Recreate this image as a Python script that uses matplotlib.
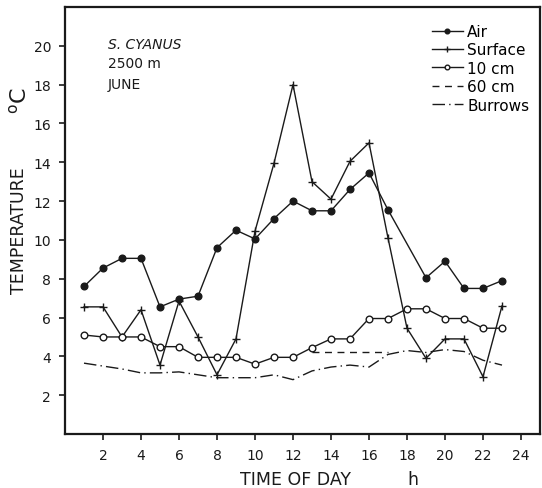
import matplotlib
matplotlib.use("Agg")
import matplotlib.pyplot as plt
import numpy as np

# ---- data ----
air_x = [1, 2, 3, 4, 5, 6, 7, 8, 9, 10, 11, 12, 13, 14, 15, 16, 17, 19, 20, 21, 22, 23]
air_y = [7.6, 8.55, 9.05, 9.05, 6.55, 6.95, 7.1, 9.6, 10.5, 10.05, 11.1, 12.0, 11.5, 11.5, 12.6, 13.45, 11.55, 8.05, 8.9, 7.5, 7.5, 7.9]

surf_x = list(range(1, 24))
surf_y = [6.55, 6.55, 5.0, 6.4, 3.55, 6.85, 5.0, 3.05, 4.9, 10.45, 13.95, 18.0, 13.0, 12.1, 14.05, 15.0, 10.1, 5.45, 3.9, 4.9, 4.9, 2.95, 6.6]

cm10_x = list(range(1, 24))
cm10_y = [5.1, 5.0, 5.0, 5.0, 4.5, 4.5, 3.95, 3.95, 3.95, 3.6, 3.95, 3.95, 4.45, 4.9, 4.9, 5.95, 5.95, 6.45, 6.45, 5.95, 5.95, 5.45, 5.45]

cm60_x = [13, 14, 15, 16, 17]
cm60_y = [4.25, 4.25, 4.25, 4.25, 4.25]

bur_x = list(range(1, 24))
bur_y = [3.65, 3.5, 3.35, 3.15, 3.15, 3.2, 3.05, 2.9, 2.9, 2.9, 3.05, 2.8, 3.25, 3.45, 3.55, 3.45, 4.1, 4.3, 4.2, 4.35, 4.25, 3.8, 3.55]

x_ticks = [2, 4, 6, 8, 10, 12, 14, 16, 18, 20, 22, 24]
y_ticks = [2, 4, 6, 8, 10, 12, 14, 16, 18, 20]

# ---- figure ----
W, H = 542, 489
fig = plt.figure(figsize=(W / 100, H / 100), dpi=100)
ax = fig.add_axes([65 / W, (H - 435) / H, (540 - 65) / W, (435 - 8) / H])

k = "#1a1a1a"
ax.plot(air_x, air_y, color=k, lw=1.0, marker="o", ms=4.8, mfc=k, mec=k, label="Air")
ax.plot(surf_x, surf_y, color=k, lw=1.0, marker="+", ms=6, mew=1.0, label="Surface")
ax.plot(cm10_x, cm10_y, color=k, lw=1.0, marker="o", ms=4.8, mfc="white", mec=k, mew=1.0, label="10 cm")
ax.plot(cm60_x, cm60_y, color=k, lw=1.0, linestyle=(0, (5, 4)), label="60 cm")
ax.plot(bur_x, bur_y, color=k, lw=1.0, linestyle=(0, (9, 3, 1, 3)), label="Burrows")

ax.set_xlim(0, 25)
ax.set_ylim(0, 22)
ax.set_xticks(x_ticks)
ax.set_yticks(y_ticks)
ax.tick_params(direction="out", length=4, width=1.2, labelsize=10, colors=k, pad=6)
for s in ax.spines.values():
    s.set_linewidth(1.6)
    s.set_color(k)

leg = ax.legend(loc="upper right", frameon=False, fontsize=11, handlelength=2.0,
                handletextpad=0.3, labelspacing=0.22, borderaxespad=0.3,
                bbox_to_anchor=(1.0, 0.985), markerscale=0.7)

ax.text(0.09, 0.905, "S. CYANUS", transform=ax.transAxes, fontsize=10, style="italic", color=k)
ax.text(0.09, 0.86, "2500 m", transform=ax.transAxes, fontsize=10, color=k)
ax.text(0.09, 0.81, "JUNE", transform=ax.transAxes, fontsize=10, color=k)

fig.text(295 / W, 1 - 480 / H, "TIME OF DAY", fontsize=12.5, ha="center", va="center", color=k)
fig.text(413 / W, 1 - 480 / H, "h", fontsize=12.5, ha="center", va="center", color=k)
fig.text(19 / W, 1 - 231 / H, "TEMPERATURE", fontsize=12.5, rotation=90, ha="center", va="center", color=k)
fig.text(19 / W, 1 - 101 / H, r"$^{\mathregular{o}}$C", fontsize=16, rotation=90, ha="center", va="center", color=k)

fig.savefig("out.png", dpi=100, facecolor="white")
